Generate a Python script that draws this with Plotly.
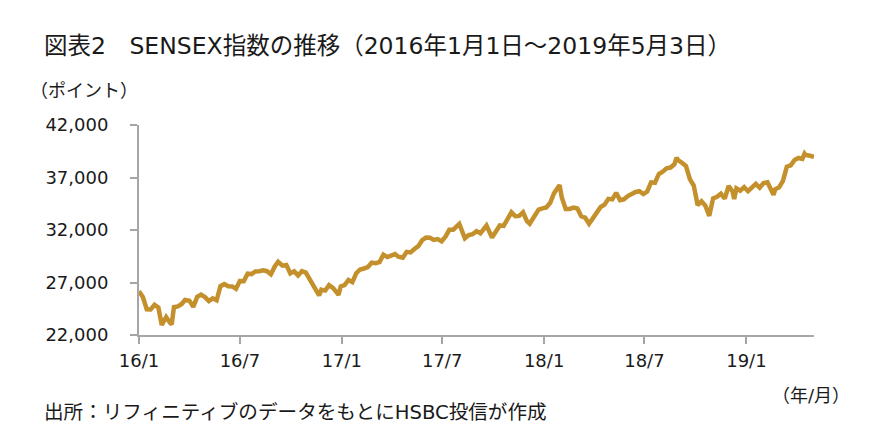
import plotly.graph_objects as go

dates = [
    "2016-01-01","2016-01-08","2016-01-15","2016-01-22","2016-01-29","2016-02-05","2016-02-11","2016-02-19","2016-02-26","2016-02-29",
    "2016-03-04","2016-03-11","2016-03-18","2016-03-24","2016-04-01","2016-04-08","2016-04-15","2016-04-22","2016-04-29","2016-05-06",
    "2016-05-13","2016-05-20","2016-05-27","2016-06-03","2016-06-10","2016-06-17","2016-06-24","2016-07-01","2016-07-08","2016-07-15",
    "2016-07-22","2016-07-29","2016-08-05","2016-08-12","2016-08-19","2016-08-26","2016-09-02","2016-09-08","2016-09-16","2016-09-23",
    "2016-09-30","2016-10-07","2016-10-14","2016-10-21","2016-10-28","2016-11-04","2016-11-11","2016-11-18","2016-11-21","2016-11-25",
    "2016-12-02","2016-12-09","2016-12-16","2016-12-23","2016-12-26","2016-12-30",
    "2017-01-06","2017-01-13","2017-01-20","2017-01-27","2017-02-03","2017-02-10","2017-02-17","2017-02-24","2017-03-03","2017-03-10",
    "2017-03-17","2017-03-24","2017-03-31","2017-04-07","2017-04-13","2017-04-21","2017-04-28","2017-05-05","2017-05-12","2017-05-19",
    "2017-05-26","2017-06-02","2017-06-09","2017-06-16","2017-06-23","2017-06-30","2017-07-07","2017-07-14","2017-07-21","2017-07-28",
    "2017-08-01","2017-08-11","2017-08-18","2017-08-25","2017-09-01","2017-09-08","2017-09-15","2017-09-19","2017-09-29","2017-10-06",
    "2017-10-13","2017-10-20","2017-10-27","2017-11-03","2017-11-10","2017-11-17","2017-11-24","2017-12-01","2017-12-06","2017-12-15",
    "2017-12-22","2017-12-29",
    "2018-01-05","2018-01-12","2018-01-19","2018-01-26","2018-01-29","2018-02-02","2018-02-09","2018-02-16","2018-02-23","2018-03-02",
    "2018-03-09","2018-03-16","2018-03-23","2018-03-28","2018-04-06","2018-04-13","2018-04-20","2018-04-27","2018-05-04","2018-05-11",
    "2018-05-18","2018-05-25","2018-06-01","2018-06-08","2018-06-15","2018-06-22","2018-06-29","2018-07-06","2018-07-13","2018-07-20",
    "2018-07-27","2018-08-03","2018-08-10","2018-08-17","2018-08-24","2018-08-28","2018-08-31","2018-09-07","2018-09-14","2018-09-21",
    "2018-09-28","2018-10-05","2018-10-12","2018-10-19","2018-10-26","2018-11-02","2018-11-09","2018-11-16","2018-11-23","2018-11-30",
    "2018-12-07","2018-12-10","2018-12-14","2018-12-21","2018-12-28",
    "2019-01-04","2019-01-11","2019-01-18","2019-01-25","2019-02-01","2019-02-08","2019-02-15","2019-02-19","2019-02-22","2019-03-01",
    "2019-03-08","2019-03-15","2019-03-22","2019-03-29","2019-04-05","2019-04-12","2019-04-16","2019-04-18","2019-04-26","2019-05-03",
]
sensex = [
    26160,25616,24455,24435,24871,24617,22951,23709,23154,23002,
    24646,24718,24953,25338,25269,24673,25627,25838,25607,25229,
    25490,25302,26653,26843,26636,26626,26398,27145,27127,27837,
    27803,28052,28078,28152,28077,27782,28532,28975,28599,28668,
    27866,28061,27674,28077,27942,27274,26819,26150,25765,26316,
    26231,26747,26490,26040,25807,26626,
    26759,27238,27035,27882,28240,28334,28468,28892,28832,28946,
    29649,29421,29621,29707,29461,29365,29918,29859,30188,30465,
    31028,31273,31262,31056,31138,30922,31360,32021,32029,32309,
    32575,31214,31525,31596,31892,31688,32273,32423,31284,31815,
    32433,32390,33157,33686,33315,33343,33679,32833,32597,33463,
    33940,34057,
    34153,34592,35511,36050,36283,35067,34005,34010,34142,34046,
    33307,33176,32596,32969,33627,34193,34415,34970,34915,35536,
    34849,34925,35227,35444,35622,35690,35423,35658,36541,36496,
    37337,37557,37869,37948,38252,38896,38645,38390,38091,36842,
    36227,34377,34734,34316,33349,35012,35158,35457,34981,36194,
    35673,34960,35963,35742,36076,
    35695,36010,36387,36025,36469,36546,35809,35352,35871,36064,
    36671,38024,38165,38673,38862,38767,39275,39140,39067,38963,
]

tick_dates = ["2016-01-01","2016-07-01","2017-01-01","2017-07-01","2018-01-01","2018-07-01","2019-01-01"]
tick_labels = ["16/1","16/7","17/1","17/7","18/1","18/7","19/1"]
y_ticks = [22000, 27000, 32000, 37000, 42000]

title_text = "図表2　SENSEX指数の推移（2016年1月1日～2019年5月3日）"
y_unit = "（ポイント）"
x_unit = "（年/月）"
source_text = "出所：リフィニティブのデータをもとにHSBC投信が作成"

L, R, T, B = 139, 56, 125, 105
W, H = 870, 440
pw, ph = W - L - R, H - T - B

def px(x):
    return (x - L) / pw

def py(y):
    return (H - B - y) / ph

cjk = "DejaVu Sans, Noto Sans CJK JP, sans-serif"

fig = go.Figure()
fig.add_trace(go.Scatter(
    x=dates, y=sensex, mode="lines",
    line=dict(color="#C4902C", width=4.5),
    hoverinfo="skip", showlegend=False,
))

fig.update_layout(
    width=W, height=H,
    margin=dict(l=L, r=R, t=T, b=B),
    paper_bgcolor="white", plot_bgcolor="white",
    showlegend=False,
    xaxis=dict(
        type="date",
        range=["2016-01-01", "2019-05-03"],
        tickvals=tick_dates, ticktext=tick_labels,
        showgrid=False, zeroline=False,
        showline=True, linecolor="#A6A6A6", linewidth=2,
        ticks="outside", ticklen=7, tickwidth=2, tickcolor="#A6A6A6",
        tickfont=dict(family="DejaVu Sans", size=18, color="#1a1a1a"),
        ticklabelstandoff=1,
    ),
    yaxis=dict(
        range=[22000, 42000],
        tickvals=y_ticks, tickformat=",",
        showgrid=False, zeroline=False,
        showline=True, linecolor="#A6A6A6", linewidth=2,
        ticks="outside", ticklen=7, tickwidth=2, tickcolor="#A6A6A6",
        tickfont=dict(family="DejaVu Sans", size=18, color="#1a1a1a"),
        ticklabelstandoff=18,
    ),
)

annos = [
    dict(text=title_text, x=px(42), y=py(46), size=23.5),
    dict(text=y_unit, x=px(28), y=py(91), size=18),
    dict(text=x_unit, x=px(770), y=py(395), size=18),
    dict(text=source_text, x=px(42), y=py(412), size=19.6),
]
for a in annos:
    fig.add_annotation(
        text=a["text"], x=a["x"], y=a["y"], xref="paper", yref="paper",
        xanchor="left", yanchor="middle", showarrow=False,
        font=dict(family=cjk, size=a["size"], color="#1a1a1a"),
    )

fig.write_html(
    "out.html",
    config={"displayModeBar": False, "staticPlot": True},
    post_script="document.body.style.margin='0';document.body.style.overflow='hidden';",
)
